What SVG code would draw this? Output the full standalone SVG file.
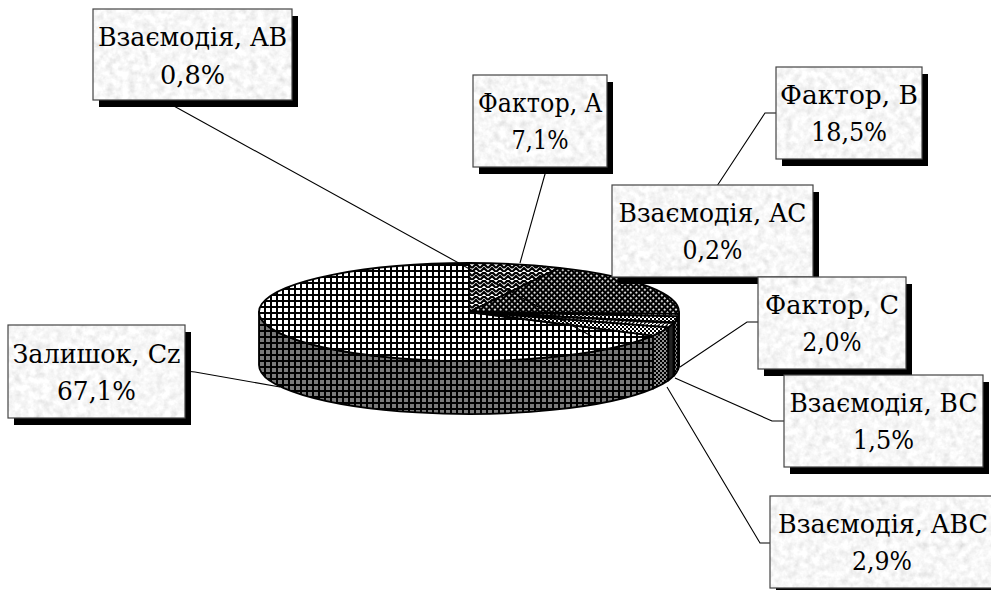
<svg xmlns="http://www.w3.org/2000/svg" width="991" height="590" viewBox="0 0 991 590">
<style>
.lbl{font-family:"DejaVu Serif","Liberation Serif",serif;font-size:26px;text-anchor:middle;fill:#000}
.shadow{fill:#000}
.bg{fill:#ddd;filter:url(#granite)}
.border{fill:none;stroke:#444;stroke-width:1.2}
.edge{stroke:#000;stroke-width:1.8;stroke-linejoin:round}
.lead{fill:none;stroke:#000;stroke-width:1.1}
</style>
<defs>
<filter id="granite" x="0" y="0" width="1" height="1">
<feTurbulence type="fractalNoise" baseFrequency="0.14" numOctaves="3" seed="7"/>
<feColorMatrix type="matrix" values="0.3 0.3 0 0 0.63  0.3 0.3 0 0 0.63  0.3 0.3 0 0 0.63  0 0 0 0 1"/>
<feComposite in2="SourceGraphic" operator="in"/>
</filter>
<pattern id="pGridTop" width="6" height="6" patternUnits="userSpaceOnUse"><rect width="6" height="6" fill="#fff"/><path d="M0 1H6M1 0V6" stroke="#000" stroke-width="2"/></pattern>
<pattern id="pGridSide" width="6" height="6" patternUnits="userSpaceOnUse"><rect width="6" height="6" fill="#7a7a7a"/><path d="M0 1H6M1 0V6" stroke="#000" stroke-width="2"/></pattern>
<pattern id="pZig" width="8" height="8" patternUnits="userSpaceOnUse"><rect width="8" height="8" fill="#fff"/><path d="M0 4L4 0L8 4M0 8L4 4L8 8" stroke="#000" stroke-width="2.2" fill="none"/></pattern>
<pattern id="pDiamond" width="4" height="4" patternUnits="userSpaceOnUse" patternTransform="rotate(45)"><rect width="4" height="4" fill="#000"/><rect width="1.8" height="1.8" fill="#fff"/></pattern>
<pattern id="pChecker" width="4" height="4" patternUnits="userSpaceOnUse"><rect width="4" height="4" fill="#fff"/><rect width="2" height="2" fill="#000"/><rect x="2" y="2" width="2" height="2" fill="#000"/></pattern>
<pattern id="pCheckerGray" width="4" height="4" patternUnits="userSpaceOnUse"><rect width="4" height="4" fill="#909090"/><rect width="2" height="2" fill="#000"/><rect x="2" y="2" width="2" height="2" fill="#000"/></pattern>
<pattern id="pWave" width="6" height="4" patternUnits="userSpaceOnUse"><rect width="6" height="4" fill="#fff"/><path d="M0 2Q1.5 0 3 2T6 2" stroke="#000" stroke-width="1.2" fill="none"/></pattern>
<pattern id="pDiag" width="4" height="4" patternUnits="userSpaceOnUse"><rect width="4" height="4" fill="#fff"/><path d="M0 4L4 0" stroke="#000" stroke-width="1.4"/></pattern>
</defs>

<g id="pie">
<g id="sides">
<path class="edge" fill="url(#pGridSide)" d="M653.02 335.61A210 49 0 0 1 259 312L259 365A210 49 0 0 0 653.02 388.61Z"/>
<path class="edge" fill="url(#pCheckerGray)" d="M668.31 327.43A210 49 0 0 1 653.02 335.61L653.02 388.61A210 49 0 0 0 668.31 380.43Z"/>
<path class="edge" fill="#222" d="M673.65 322.99A210 49 0 0 1 668.31 327.43L668.31 380.43A210 49 0 0 0 673.65 375.99Z"/>
<path class="edge" fill="#000" d="M674.23 322.39A210 49 0 0 1 673.65 322.99L673.65 375.99A210 49 0 0 0 674.23 375.39Z"/>
<path class="edge" fill="url(#pCheckerGray)" d="M678.19 316.3A210 49 0 0 1 674.23 322.39L674.23 375.39A210 49 0 0 0 678.19 369.3Z"/>
<path class="edge" fill="#111" d="M678.85 313.85A210 49 0 0 1 678.19 316.3L678.19 369.3A210 49 0 0 0 678.85 366.85Z"/>
<path class="edge" fill="#222" d="M679 312A210 49 0 0 1 678.85 313.85L678.85 366.85A210 49 0 0 0 679 365Z"/>
</g>
<g id="slice-Cz"><path class="edge" fill="url(#pGridTop)" d="M469 312L653.02 335.61A210 49 0 1 1 469 263Z"/></g>
<g id="slice-A"><path class="edge" fill="url(#pZig)" d="M469 312L469 263A210 49 0 0 1 559.6 267.8Z"/></g>
<g id="slice-B"><path class="edge" fill="url(#pDiamond)" d="M469 312L559.6 267.8A210 49 0 0 1 678.85 313.85Z"/></g>
<g id="slice-AB"><path class="edge" fill="url(#pWave)" d="M469 312L678.85 313.85A210 49 0 0 1 678.19 316.3Z"/></g>
<g id="slice-C"><path class="edge" fill="url(#pChecker)" d="M469 312L678.19 316.3A210 49 0 0 1 674.23 322.39Z"/></g>
<g id="slice-AC"><path class="edge" fill="#000" d="M469 312L674.23 322.39A210 49 0 0 1 673.65 322.99Z"/></g>
<g id="slice-BC"><path class="edge" fill="url(#pDiag)" d="M469 312L673.65 322.99A210 49 0 0 1 668.31 327.43Z"/></g>
<g id="slice-ABC"><path class="edge" fill="url(#pChecker)" d="M469 312L668.31 327.43A210 49 0 0 1 653.02 335.61Z"/></g>
</g>

<g id="connectors">
<path class="lead" d="M163 100L593 337"/>
<path class="lead" d="M547 167L520 263"/>
<path class="lead" d="M776 113L765 113L717 186"/>
<path class="lead" d="M758 322L747 322L680 367"/>
<path class="lead" d="M784 421L772 421L675 378"/>
<path class="lead" d="M770 543L760 543L667 387"/>
<path class="lead" d="M185 371L195 372L280 387"/>
</g>

<g id="label-AB">
<rect class="shadow" x="99" y="16" width="199" height="91"/>
<rect class="bg" x="93" y="9" width="199" height="91"/>
<rect class="border" x="93" y="9" width="199" height="91"/>
<text class="lbl" x="192.5" y="46" textLength="189" lengthAdjust="spacingAndGlyphs">Взаємодія, AB</text>
<text class="lbl" x="192.5" y="84" textLength="65" lengthAdjust="spacingAndGlyphs">0,8%</text>
</g>
<g id="label-A">
<rect class="shadow" x="479" y="82" width="134" height="92"/>
<rect class="bg" x="473" y="75" width="134" height="92"/>
<rect class="border" x="473" y="75" width="134" height="92"/>
<text class="lbl" x="540" y="112" textLength="124" lengthAdjust="spacingAndGlyphs">Фактор, A</text>
<text class="lbl" x="540" y="149" textLength="57" lengthAdjust="spacingAndGlyphs">7,1%</text>
</g>
<g id="label-B">
<rect class="shadow" x="782" y="74" width="146" height="92"/>
<rect class="bg" x="776" y="67" width="146" height="92"/>
<rect class="border" x="776" y="67" width="146" height="92"/>
<text class="lbl" x="849" y="104" textLength="138" lengthAdjust="spacingAndGlyphs">Фактор, B</text>
<text class="lbl" x="849" y="141" textLength="76" lengthAdjust="spacingAndGlyphs">18,5%</text>
</g>
<g id="label-AC">
<rect class="shadow" x="618" y="192" width="201" height="92"/>
<rect class="bg" x="612" y="185" width="201" height="92"/>
<rect class="border" x="612" y="185" width="201" height="92"/>
<text class="lbl" x="712.5" y="222" textLength="188" lengthAdjust="spacingAndGlyphs">Взаємодія, AC</text>
<text class="lbl" x="712.5" y="259" textLength="60" lengthAdjust="spacingAndGlyphs">0,2%</text>
</g>
<g id="label-C">
<rect class="shadow" x="764" y="284" width="148" height="92"/>
<rect class="bg" x="758" y="277" width="148" height="92"/>
<rect class="border" x="758" y="277" width="148" height="92"/>
<text class="lbl" x="832" y="314" textLength="134" lengthAdjust="spacingAndGlyphs">Фактор, C</text>
<text class="lbl" x="832" y="351" textLength="59" lengthAdjust="spacingAndGlyphs">2,0%</text>
</g>
<g id="label-BC">
<rect class="shadow" x="790" y="382" width="199" height="92"/>
<rect class="bg" x="784" y="375" width="199" height="92"/>
<rect class="border" x="784" y="375" width="199" height="92"/>
<text class="lbl" x="883.5" y="412" textLength="188" lengthAdjust="spacingAndGlyphs">Взаємодія, BC</text>
<text class="lbl" x="883.5" y="449" textLength="61" lengthAdjust="spacingAndGlyphs">1,5%</text>
</g>
<g id="label-ABC">
<rect class="shadow" x="776" y="503" width="224" height="92"/>
<rect class="bg" x="770" y="496" width="224" height="92"/>
<rect class="border" x="770" y="496" width="224" height="92"/>
<text class="lbl" x="883" y="533" textLength="210" lengthAdjust="spacingAndGlyphs">Взаємодія, ABC</text>
<text class="lbl" x="882" y="570" textLength="60" lengthAdjust="spacingAndGlyphs">2,9%</text>
</g>
<g id="label-Cz">
<rect class="shadow" x="14" y="332" width="177" height="93"/>
<rect class="bg" x="8" y="325" width="177" height="93"/>
<rect class="border" x="8" y="325" width="177" height="93"/>
<text class="lbl" x="96.5" y="363" textLength="168" lengthAdjust="spacingAndGlyphs">Залишок, Cz</text>
<text class="lbl" x="96.5" y="400" textLength="79" lengthAdjust="spacingAndGlyphs">67,1%</text>
</g>
</svg>
